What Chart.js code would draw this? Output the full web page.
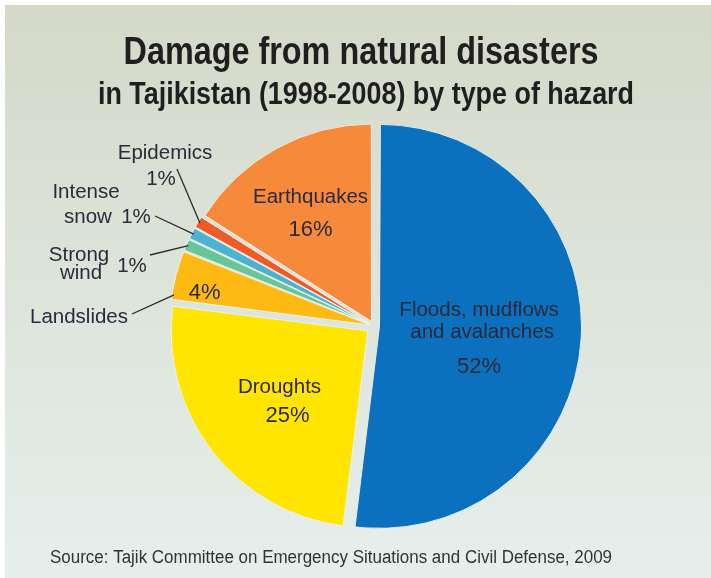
<!DOCTYPE html>
<html>
<head>
<meta charset="utf-8">
<script src="https://cdn.jsdelivr.net/npm/chart.js@4"></script>
<style>
  html, body { margin: 0; padding: 0; background: #fff; }
  #wrap {
    position: absolute; left: 5px; top: 5px; width: 706px; height: 573px;
    background: linear-gradient(#d4d9c8, #e6efed);
  }
  canvas { display: block; }
</style>
</head>
<body>
<div id="wrap"><canvas id="myChart" width="706" height="573"></canvas></div>
<script>
// data (share of damage, %)
const categories = ['Floods, mudflows and avalanches', 'Droughts', 'Landslides', 'Strong wind', 'Intense snow', 'Epidemics', 'Earthquakes']
const shares = [52, 25, 4, 1, 1, 1, 16]

const colors = ['#0b70bd', '#ffe500', '#feba12', '#68c597', '#4cb2cf', '#ef5a26', '#f68a3a']
const offsets = [22, 32, 18, 16, 16, 16, 21]

const NAME_FONT = '20.5px "Liberation Sans", Arial, sans-serif'
const PCT_FONT = '22px "Liberation Sans", Arial, sans-serif'
const TEXT_COLOR = '#2c2a3a'

// labels inside the slices: r = fraction of radius along mid angle, then [text, dy, dx, font]
const insideLabels = {
  0: { r: 0.48, rows: [['Floods, mudflows', -22, 0, NAME_FONT], ['and avalanches', 0, 3, NAME_FONT], ['52%', 34, 0, PCT_FONT]] },
  1: { r: 0.6, rows: [['Droughts', -16, 5, NAME_FONT], ['25%', 13, 13, PCT_FONT]] },
  2: { r: 0.85, rows: [['4%', 10, 0, PCT_FONT]] },
  6: { r: 0.65, rows: [['Earthquakes', -11, 1, NAME_FONT], ['16%', 21, 1, PCT_FONT]] }
}

// labels outside with a leader line (canvas coordinates of text and line end)
const outsideLabels = {
  5: { frac: 0.5, lineTo: [172, 164], rows: [['Epidemics', 160, 148], ['1%', 156, 174]] },
  4: { frac: 0.5, lineTo: [150, 211], rows: [['Intense', 81, 187], ['snow', 83, 212], ['1%', 131, 212]] },
  3: { frac: 0.5, lineTo: [145, 250], rows: [['Strong', 74, 250], ['wind', 76, 268], ['1%', 127, 261]] },
  2: { frac: 0.1, lineTo: [127, 309], rows: [['Landslides', 74, 312]] }
}

// draw text squeezed to a given width (the original uses a condensed face)
function condensedText(ctx, text, x, y, font, width, align) {
  ctx.font = font
  const k = width / ctx.measureText(text).width
  ctx.save()
  ctx.translate(x, y)
  ctx.scale(k, 1)
  ctx.textAlign = align
  ctx.fillText(text, 0, 0)
  ctx.restore()
}

const textPlugin = {
  id: 'textPlugin',
  afterDatasetsDraw(chart) {
    const ctx = chart.ctx
    const meta = chart.getDatasetMeta(0)
    ctx.save()
    ctx.textAlign = 'center'
    ctx.textBaseline = 'middle'
    ctx.fillStyle = TEXT_COLOR

    meta.data.forEach((arc, i) => {
      const { x, y, startAngle, endAngle, outerRadius } = arc.getProps(['x', 'y', 'startAngle', 'endAngle', 'outerRadius'], true)
      const circ = endAngle - startAngle
      const fix = 1 - Math.sin(Math.min(Math.PI, circ))
      const disp = offsets[i] / 4 * (1 + fix)
      const mid = (startAngle + endAngle) / 2

      if (insideLabels[i]) {
        const lx = x + Math.cos(mid) * (disp + outerRadius * insideLabels[i].r)
        const ly = y + Math.sin(mid) * (disp + outerRadius * insideLabels[i].r)
        insideLabels[i].rows.forEach(([t, dy, dx, font]) => {
          ctx.font = font
          ctx.fillText(t, lx + dx, ly + dy)
        })
      }

      if (outsideLabels[i]) {
        const o = outsideLabels[i]
        const a = startAngle + circ * o.frac
        const ax = x + Math.cos(mid) * disp + Math.cos(a) * (outerRadius - 2)
        const ay = y + Math.sin(mid) * disp + Math.sin(a) * (outerRadius - 2)
        ctx.strokeStyle = '#2a2a2a'
        ctx.lineWidth = 1.3
        ctx.beginPath()
        ctx.moveTo(ax, ay)
        ctx.lineTo(o.lineTo[0], o.lineTo[1])
        ctx.stroke()
        ctx.font = NAME_FONT
        o.rows.forEach(([t, tx, ty]) => ctx.fillText(t, tx, ty))
      }
    })

    // titles and source
    ctx.textBaseline = 'alphabetic'
    ctx.fillStyle = '#1f1f1f'
    condensedText(ctx, 'Damage from natural disasters', 356, 59, 'bold 38px "Liberation Sans", Arial, sans-serif', 475, 'center')
    condensedText(ctx, 'in Tajikistan (1998-2008) by type of hazard', 361, 99, 'bold 31px "Liberation Sans", Arial, sans-serif', 536, 'center')
    ctx.fillStyle = '#333'
    condensedText(ctx, 'Source: Tajik Committee on Emergency Situations and Civil Defense, 2009', 45, 558, '18px "Liberation Sans", Arial, sans-serif', 562, 'left')
    ctx.restore()
  }
}

const ctx = document.getElementById('myChart').getContext('2d')

const myChart = new Chart(ctx, {
  type: 'pie',
  data: {
    labels: categories,
    datasets: [{
      data: shares,
      backgroundColor: colors,
      borderColor: 'rgba(236,241,236,0.95)',
      borderWidth: 1,
      offset: offsets
    }]
  },
  options: {
    responsive: false,
    animation: false,
    layout: { padding: { left: 156, right: 124, top: 108, bottom: 39 } },
    plugins: {
      legend: { display: false },
      tooltip: { enabled: false },
      title: { display: false }
    }
  },
  plugins: [textPlugin]
})
</script>
</body>
</html>
